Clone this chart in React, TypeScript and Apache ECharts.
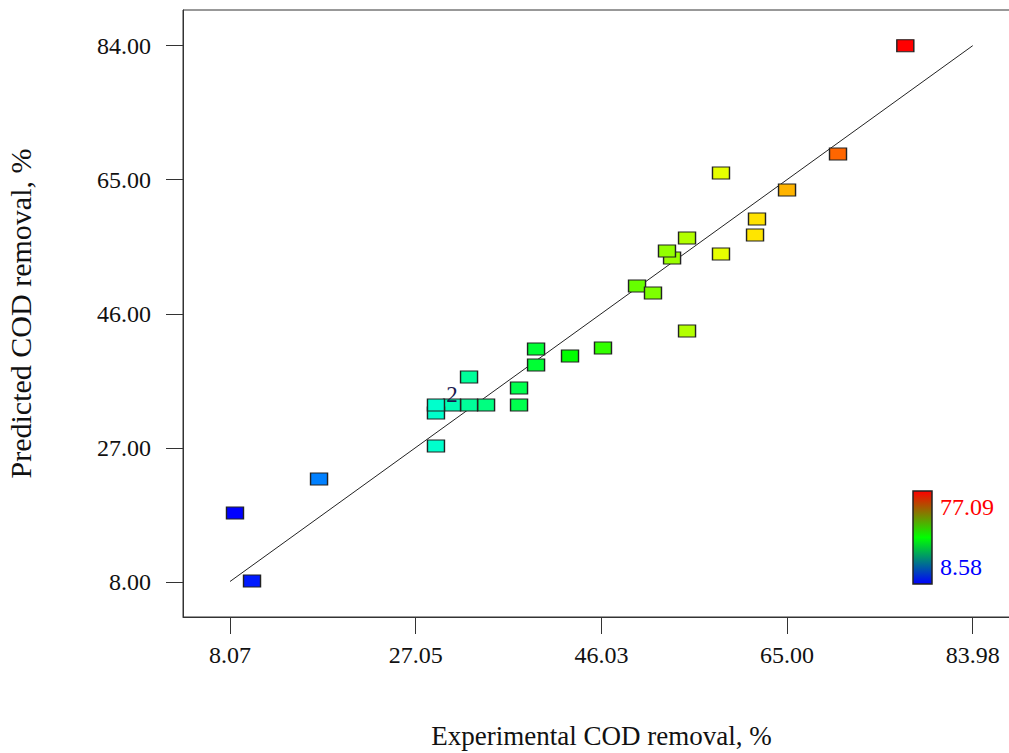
import React, { useEffect, useRef } from "react";
import * as echarts from "echarts";

// Experimental (actual) vs predicted COD removal, %
const actual = [77.09, 70.21, 65.0, 58.25, 61.93, 61.73, 58.25, 54.78, 53.25, 52.73, 49.67, 51.3, 54.78, 46.19, 42.82, 39.35, 39.35, 37.61, 37.61, 32.5, 34.24, 32.5, 30.76, 29.12, 29.12, 29.12, 17.17, 8.58, 10.32];
const predicted = [83.98, 68.63, 63.53, 65.94, 59.42, 57.16, 54.47, 56.73, 53.9, 54.89, 49.93, 48.94, 43.56, 41.15, 40.02, 41.01, 38.74, 35.48, 33.07, 37.04, 33.07, 33.07, 33.07, 31.94, 33.07, 27.27, 22.59, 17.77, 8.14];
const repeatIndex = 22; // point that stands for two runs
const repeatLabel = "2";
const xTicks = [8.07, 27.05, 46.03, 65.0, 83.98];
const yTicks = [8.0, 27.0, 46.0, 65.0, 84.0];
const colorMin = 8.58;
const colorMax = 77.09;
const lineEnds = [8.07, 83.98];

const FONT = "'Liberation Serif', 'DejaVu Serif', serif";

export default function App() {
  const ref = useRef<HTMLDivElement>(null);
  useEffect(() => {
    document.body.style.margin = "0";
    const chart = echarts.init(ref.current!, undefined, { renderer: "svg" });
    const data = actual.map((a, i) => {
      const item: any = { value: [a, predicted[i], a] };
      if (i === repeatIndex) {
        item.label = {
          show: true,
          formatter: repeatLabel,
          position: "top",
          distance: -7,
          color: "#1a1a50",
          fontSize: 23,
          fontFamily: FONT,
        };
      }
      return item;
    });
    chart.setOption({
      animation: false,
      backgroundColor: "#ffffff",
      grid: {
        left: 183,
        top: 10,
        width: 837,
        height: 607,
        containLabel: false,
        outerBoundsMode: "none",
        show: true,
        borderColor: "#333",
        borderWidth: 1,
        backgroundColor: "transparent",
      },
      xAxis: {
        type: "value",
        min: 3.266,
        max: 88.81,
        name: "Experimental COD removal, %",
        nameLocation: "middle",
        nameGap: 105,
        nameTextStyle: { fontFamily: FONT, fontSize: 27, color: "#111" },
        axisLine: { show: true, lineStyle: { color: "#333", width: 1 } },
        axisTick: { show: true, length: 17, lineStyle: { color: "#333" }, customValues: xTicks },
        axisLabel: {
          customValues: xTicks,
          formatter: (v: number) => v.toFixed(2),
          fontFamily: FONT,
          fontSize: 24,
          color: "#111",
          margin: 26,
        },
        splitLine: { show: false },
      },
      yAxis: {
        type: "value",
        min: 3.042,
        max: 89.03,
        name: "Predicted COD removal, %",
        nameLocation: "middle",
        nameGap: 148,
        nameTextStyle: { fontFamily: FONT, fontSize: 30, color: "#111" },
        axisLine: { show: true, lineStyle: { color: "#333", width: 1 } },
        axisTick: { show: true, length: 17, lineStyle: { color: "#333" }, customValues: yTicks },
        axisLabel: {
          customValues: yTicks,
          formatter: (v: number) => v.toFixed(2),
          fontFamily: FONT,
          fontSize: 24,
          color: "#111",
          margin: 32,
        },
        splitLine: { show: false },
      },
      visualMap: {
        show: false,
        type: "continuous",
        dimension: 2,
        seriesIndex: 1,
        min: colorMin,
        max: colorMax,
        inRange: { color: ["#0000ff", "#00ffff", "#00ff00", "#ffff00", "#ff0000"] },
      },
      series: [
        {
          type: "line",
          data: lineEnds.map((v) => [v, v]),
          symbol: "none",
          lineStyle: { color: "#222", width: 1 },
          silent: true,
          z: 1,
        },
        {
          type: "scatter",
          data,
          symbol: "rect",
          symbolSize: [17, 12],
          itemStyle: { borderColor: "#222", borderWidth: 1.2, opacity: 1 },
          z: 2,
        },
      ],
      graphic: [
        {
          type: "rect",
          shape: { x: 913, y: 491, width: 19, height: 93 },
          style: {
            fill: new echarts.graphic.LinearGradient(0, 0, 0, 1, [
              { offset: 0, color: "#ff0000" },
              { offset: 0.5, color: "#00ff00" },
              { offset: 1, color: "#0000ff" },
            ]),
            stroke: "#222",
            lineWidth: 1.5,
          },
        },
        {
          type: "text",
          x: 940,
          y: 507,
          style: {
            text: colorMax.toFixed(2),
            fill: "#ff0000",
            font: `24px ${FONT}`,
            verticalAlign: "middle",
            align: "left",
          },
        },
        {
          type: "text",
          x: 940,
          y: 567,
          style: {
            text: colorMin.toFixed(2),
            fill: "#0000ff",
            font: `24px ${FONT}`,
            verticalAlign: "middle",
            align: "left",
          },
        },
      ],
    });
    return () => chart.dispose();
  }, []);
  return <div ref={ref} style={{ width: 1009, height: 753 }} />;
}
